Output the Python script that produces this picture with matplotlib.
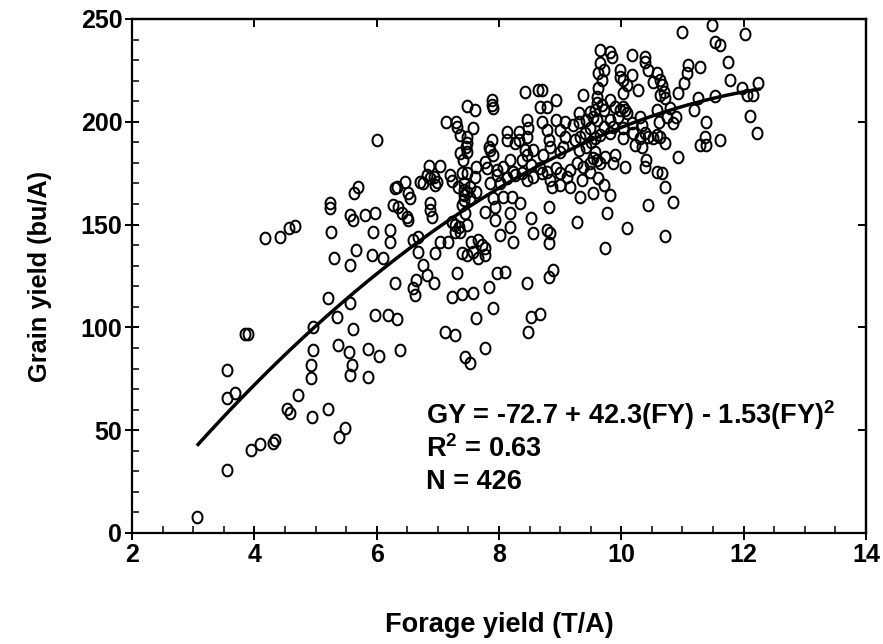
import numpy as np
import matplotlib
matplotlib.use('Agg')
import matplotlib.pyplot as plt
from matplotlib.path import Path
from matplotlib.ticker import MultipleLocator

# ---------------- data ----------------
forage = [3.06, 3.55, 3.56, 3.68, 3.55, 3.84, 3.89, 3.94, 4.10, 4.30, 4.34, 4.17, 4.42, 4.56, 4.66,
          4.53, 4.58, 4.72, 4.92, 4.92, 4.95, 4.96, 4.96, 5.20, 5.38, 5.48, 5.21, 5.35, 5.37, 5.24,
          5.24, 5.25, 5.30, 5.56, 5.62, 5.81, 5.97, 6.27, 6.41, 6.49, 6.52, 6.87, 6.87, 6.90, 7.39,
          7.44, 5.94, 6.22, 6.22, 6.60, 6.68, 7.03, 7.17, 7.23, 7.28, 7.28, 7.34, 7.47, 5.67, 5.56,
          5.92, 6.11, 6.68, 6.95, 7.39, 7.47, 6.76, 6.82, 6.93, 6.30, 6.65, 6.60, 6.63, 7.31, 7.23,
          7.39, 5.56, 5.97, 6.19, 6.33, 5.61, 7.12, 7.28, 5.54, 5.86, 6.03, 6.38, 7.44, 7.53, 5.59,
          5.56, 5.86,
          7.47, 7.14, 7.30, 7.31, 6.00, 7.46, 7.47, 7.41, 6.85, 7.03, 7.20, 7.39, 6.82, 6.87, 6.93,
          6.71, 6.76, 6.95, 6.98, 6.33, 6.46, 6.30, 6.52, 6.54, 5.70, 5.63, 6.35, 7.23, 7.33, 7.42,
          7.47, 7.42,
          9.65, 9.65, 9.62, 8.42, 8.64, 8.70, 7.61, 7.88, 7.88, 7.91, 8.67, 8.78, 8.94, 9.38, 9.30,
          9.49, 9.60, 7.58, 8.13, 8.32, 8.45, 8.48, 8.70, 8.94, 9.08, 9.21, 9.30, 9.43, 9.54, 7.36,
          7.47, 7.47, 7.36, 7.88, 7.83, 7.85, 7.91, 8.13, 8.26, 8.32, 8.45, 8.42, 8.45, 8.56, 8.78,
          8.81, 8.83, 8.72, 9.00, 9.08, 9.05, 9.00, 9.24, 9.32, 9.41, 9.30, 9.43, 9.51, 9.57, 9.57,
          9.60, 9.49, 7.63, 7.77, 7.80, 7.96, 8.07, 8.23, 8.18, 8.37, 8.53, 8.67, 8.78, 8.94, 9.00,
          9.16, 9.27, 9.38, 9.49, 7.47,
          7.61, 7.42, 7.53, 7.63, 7.42, 7.53, 7.85, 7.96, 8.02, 8.13, 8.26, 8.37, 8.45, 8.56, 8.70,
          8.83, 8.86, 9.00, 9.11, 9.16, 9.32, 9.35, 9.54, 7.91, 7.93, 7.93, 8.18, 8.34, 8.21, 8.07,
          7.77, 7.36, 8.18, 8.23, 8.02, 8.53, 8.56, 8.81, 8.78, 8.83, 8.81, 9.27, 7.55, 7.66, 7.72,
          7.77, 7.58, 7.66, 7.77, 7.96, 8.10, 7.83, 7.58, 8.45, 8.81, 8.89, 7.91, 8.67, 8.53, 7.63,
          8.48, 7.77,
          11.00, 11.48, 12.02, 11.53, 11.61, 9.81, 9.84, 10.17, 10.39, 10.39, 11.75, 9.71, 9.98, 9.98,
          10.17, 10.44, 10.58, 10.63, 10.52, 10.66, 11.09, 11.29, 11.07, 11.02, 11.78, 9.68, 9.62,
          9.60, 10.03, 10.09, 10.03, 10.28, 10.70, 10.63, 10.71, 10.93, 11.26, 11.53, 11.97, 12.05,
          12.16, 12.24, 12.11, 11.39, 12.21, 11.37, 11.61, 11.18, 10.90, 10.58, 10.61, 10.85, 10.79,
          10.74, 10.30, 10.33, 10.17, 10.19, 10.39, 10.58, 10.63, 10.03, 10.30, 9.68, 9.57, 9.71,
          9.81, 9.90, 9.98, 10.06, 9.81, 9.95, 9.60, 9.71, 9.49, 9.87, 10.03, 10.03, 10.09,
          11.29, 11.39, 10.22, 10.33, 10.44, 10.52, 10.71, 10.93, 10.41, 10.39, 10.58, 10.66, 10.71,
          10.44, 10.85, 10.09, 10.71, 9.73, 9.76, 9.81, 9.62, 9.71, 9.73, 9.90, 9.87, 10.06, 9.65,
          9.54, 9.65, 9.81]

grain = [7.9, 30.6, 65.5, 68.2, 79.3, 96.6, 96.9, 40.4, 43.1, 43.6, 45.2, 143.3, 143.8, 148.2, 149.3,
         60.2, 58.2, 67.1, 81.7, 75.5, 56.3, 89.0, 100.3, 60.4, 46.5, 50.9, 114.2, 105.2, 91.4, 160.4,
         157.9, 146.6, 133.6, 154.7, 152.2, 154.7, 155.5, 159.5, 155.5, 153.8, 152.2, 160.4, 157.1, 153.8, 159.5,
         155.5, 146.6, 147.4, 141.7, 142.5, 144.1, 141.7, 141.7, 151.4, 149.8, 146.6, 149.0, 149.8, 137.6, 130.4,
         135.2, 133.6, 136.8, 136.0, 136.0, 135.2, 130.4, 125.5, 121.4, 121.7, 123.0, 119.0, 115.8, 126.3, 114.6,
         116.2, 111.7, 106.0, 106.0, 103.9, 99.1, 97.9, 96.3, 88.2, 89.3, 86.1, 89.0, 85.7, 82.5, 81.7,
         76.8, 76.0,
         207.8, 199.9, 200.0, 197.6, 191.1, 187.6, 189.5, 181.4, 178.5, 178.5, 174.1, 175.0, 174.1, 172.5, 173.3,
         170.9, 170.1, 169.3, 170.9, 168.4, 170.9, 167.7, 165.2, 162.8, 168.1, 165.2, 158.7, 171.0, 168.4, 166.8,
         166.0, 162.0,
         234.9, 228.5, 223.6, 214.6, 215.5, 215.5, 205.7, 210.6, 208.2, 206.6, 207.3, 207.3, 210.6, 213.0, 204.1,
         204.9, 209.0, 196.8, 195.2, 195.2, 200.9, 196.8, 200.0, 200.9, 200.0, 198.4, 200.0, 200.9, 202.5, 193.6,
         192.7, 185.5, 184.7, 191.1, 187.9, 186.3, 183.9, 191.1, 189.5, 191.1, 192.7, 186.3, 183.9, 186.3, 196.0,
         191.1, 187.9, 183.9, 196.0, 192.7, 187.9, 185.5, 191.1, 192.7, 194.4, 186.3, 187.9, 190.3, 192.0, 185.5,
         181.4, 179.8, 178.2, 180.6, 177.4, 176.6, 178.2, 175.7, 181.4, 181.4, 179.0, 177.4, 175.7, 177.4, 175.0,
         176.6, 179.8, 178.2, 175.7, 175.0,
         173.3, 170.1, 168.4, 166.0, 164.4, 162.8, 170.1, 174.1, 170.1, 172.5, 174.1, 175.0, 171.7, 173.3, 175.0,
         171.7, 168.4, 169.3, 173.3, 168.4, 163.6, 171.7, 165.2, 162.8, 158.7, 152.2, 155.5, 160.4, 163.6, 163.6,
         156.3, 146.6, 149.0, 141.7, 144.9, 153.1, 145.8, 158.7, 147.4, 145.8, 140.9, 151.4, 141.7, 142.5, 140.1,
         138.5, 136.8, 133.6, 135.2, 126.3, 127.1, 119.8, 116.6, 121.4, 124.7, 127.9, 109.3, 106.5, 105.2, 104.4,
         97.9, 89.8,
         243.5, 247.1, 242.7, 239.0, 237.4, 234.1, 231.7, 232.5, 231.7, 229.2, 229.2, 225.2, 225.2, 221.9,
         222.8, 225.2, 223.6, 220.3, 219.5, 217.9, 227.6, 226.8, 223.6, 218.7, 220.3, 220.3, 216.3,
         212.2, 220.3, 217.9, 213.9, 215.5, 214.6, 213.0, 211.4, 213.9, 211.4, 212.5, 216.3, 213.0,
         213.0, 218.7, 202.8, 200.0, 194.4, 192.7, 191.1, 205.7, 202.5, 205.7, 200.0, 199.3, 206.6,
         202.5, 202.5, 198.4, 199.3, 194.4, 194.4, 193.6, 192.7, 192.0, 192.0, 208.2, 205.7, 205.7,
         210.6, 207.3, 205.7, 205.7, 200.9, 202.5, 200.9, 197.6, 196.8, 197.6, 196.8, 207.3, 204.1,
         188.7, 188.7, 188.7, 187.9, 192.7, 192.0, 189.5, 183.0, 181.4, 178.2, 175.7, 175.0, 168.4,
         159.5, 161.1, 148.2, 144.5, 138.5, 155.5, 164.4, 172.5, 169.3, 183.0, 183.9, 179.8, 178.2, 179.8,
         182.2, 193.6, 194.4]

fit_coef = [-72.7, 42.3, -1.53]        # GY = a + b*FY + c*FY^2
fit_range = [3.08, 12.25]
x_ticks = [2, 4, 6, 8, 10, 12, 14]
y_ticks = [0, 50, 100, 150, 200, 250]
eq_lines = [r"GY = -72.7 + 42.3(FY) - 1.53(FY)$^\mathbf{2}$", r"R$^\mathbf{2}$ = 0.63", "N = 426"]
eq_y = [57.4, 40.9, 24.8]

# ---------------- style ----------------
plt.rcParams['font.family'] = ['Liberation Sans', 'DejaVu Sans']
plt.rcParams['font.weight'] = 'bold'
plt.rcParams['mathtext.fontset'] = 'custom'
plt.rcParams['mathtext.rm'] = 'Liberation Sans:bold'
plt.rcParams['mathtext.bf'] = 'Liberation Sans:bold'
plt.rcParams['mathtext.it'] = 'Liberation Sans:bold'

W, H = 883, 644
fig = plt.figure(figsize=(W / 100, H / 100), dpi=100)
L, R, T, B = 132, 866, 19, 533
ax = fig.add_axes([L / W, 1 - B / H, (R - L) / W, (B - T) / H])

t = np.linspace(0, 2 * np.pi, 64)
ellipse = Path(np.column_stack([0.85 * np.cos(t), np.sin(t)]), closed=True)

ax.plot(forage, grain, linestyle='none', marker=ellipse, markersize=8.4,
        markerfacecolor='none', markeredgecolor='black', markeredgewidth=1.45, zorder=2)

xs = np.linspace(fit_range[0], fit_range[1], 300)
ys = fit_coef[0] + fit_coef[1] * xs + fit_coef[2] * xs ** 2
ax.plot(xs, ys, color='black', linewidth=2.5, zorder=3)

ax.set_xlim(2, 14)
ax.set_ylim(0, 250)
ax.set_xticks(x_ticks)
ax.set_yticks(y_ticks)
ax.xaxis.set_minor_locator(MultipleLocator(0.5))
ax.yaxis.set_minor_locator(MultipleLocator(10))
ax.tick_params(which='major', direction='inout', length=10, width=1.4, labelsize=18, pad=2)
ax.tick_params(which='minor', direction='in', length=5, width=1.1)
for lab in ax.get_xticklabels() + ax.get_yticklabels():
    lab.set_fontweight('bold')
for s in ax.spines.values():
    s.set_linewidth(1.6)

secx = ax.secondary_xaxis('top')
secx.set_xticks(x_ticks)
secx.tick_params(direction='in', length=6, width=1.4, labeltop=False)
secx.spines['top'].set_linewidth(1.6)
secy = ax.secondary_yaxis('right')
secy.set_yticks(y_ticks)
secy.tick_params(direction='in', length=6, width=1.4, labelright=False)
secy.spines['right'].set_linewidth(1.6)

for txt, yy in zip(eq_lines, eq_y):
    ax.text(6.81, yy, txt, fontsize=19.5, fontweight='bold', ha='left', va='center', zorder=4)

fig.text(40 / W, 1 - 276 / H, "Grain yield (bu/A)", rotation=90, ha='center', va='center',
         fontsize=18.3, fontweight='bold')
fig.text(499 / W, 1 - 625 / H, "Forage yield (T/A)", ha='center', va='center',
         fontsize=19.5, fontweight='bold')

fig.savefig('out.png', dpi=100)
